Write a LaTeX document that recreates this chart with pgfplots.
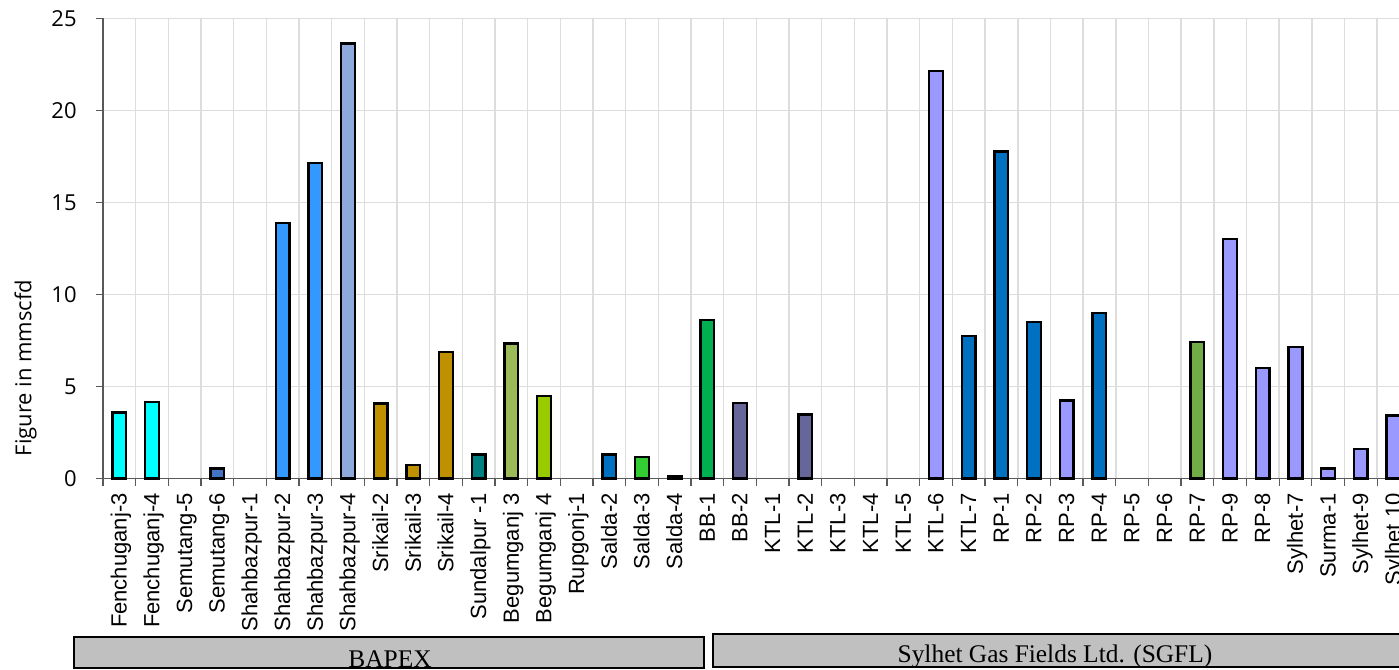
\documentclass[border=0pt]{standalone}
\usepackage{fontspec}
\setmainfont{Liberation Sans}
\newfontfamily\tickfont{Open Sans}
\newfontfamily\seriffont{Liberation Serif}
\usepackage{pgfplots}
\pgfplotsset{compat=1.18}

\definecolor{cCyan}{HTML}{00FFFF}
\definecolor{cRoyal}{HTML}{4472C4}
\definecolor{cSky}{HTML}{3399FF}
\definecolor{cPale}{HTML}{8EA9DB}
\definecolor{cGold}{HTML}{BF9000}
\definecolor{cTeal}{HTML}{008080}
\definecolor{cOlive}{HTML}{9BBB59}
\definecolor{cLime}{HTML}{99CC00}
\definecolor{cBlue}{HTML}{0070C0}
\definecolor{cGreen}{HTML}{33CC33}
\definecolor{cEmer}{HTML}{00B050}
\definecolor{cSlate}{HTML}{666699}
\definecolor{cLav}{HTML}{9999FF}
\definecolor{cLeaf}{HTML}{70AD47}
\definecolor{boxgray}{HTML}{C0C0C0}
\definecolor{gridgray}{HTML}{DDDDDD}

\begin{document}
\begin{tikzpicture}[x=0.5pt,y=0.5pt]
\useasboundingbox (0,0) rectangle (1399,670);
\begin{axis}[
  at={(51.5pt,95.75pt)}, anchor=south west,
  scale only axis, width=648pt, height=230pt,
  ybar, bar width=0.42, bar shift=0pt,
  xmin=-0.5, xmax=39.17,
  ymin=0, ymax=25,
  axis x line*=bottom, axis y line*=left,
  axis line style={black!65, line width=0.6pt},
  tick align=outside, major tick length=3.5pt,
  tick style={black!65, line width=0.6pt},
  xtick={-0.5,0.5,...,38.5}, xticklabels={},
  ytick={0,5,...,25}, yticklabels={0,5,10,15,20,25},
  yticklabel style={font=\tickfont\fontsize{11}{13}\selectfont, anchor=east, inner sep=0pt, xshift=-9.5pt},
  xmajorgrids, ymajorgrids,
  major grid style={draw=gridgray, line width=0.75pt},
  extra x ticks={0,...,39},
  extra x tick style={grid=none, major tick length=0pt},
  extra x tick labels={Fenchuganj-3,Fenchuganj-4,Semutang-5,Semutang-6,Shahbazpur-1,Shahbazpur-2,Shahbazpur-3,Shahbazpur-4,Srikail-2,Srikail-3,Srikail-4,Sundalpur -1,Begumganj 3,Begumganj 4,Rupgonj-1,Salda-2,Salda-3,Salda-4,BB-1,BB-2,KTL-1,KTL-2,KTL-3,KTL-4,KTL-5,KTL-6,KTL-7,RP-1,RP-2,RP-3,RP-4,RP-5,RP-6,RP-7,RP-9,RP-8,Sylhet-7,Surma-1,Sylhet-9,Sylhet 10},
  xticklabel style={font=\fontsize{11}{13}\selectfont, inner sep=0pt, xshift=3.7pt, yshift=-7.25pt, rotate=90, anchor=base east},
  every axis plot/.append style={draw=black, line width=1.2pt},
  clip=false,
]
\addplot[fill=cCyan] coordinates {(0,3.58) (1,4.16)};
\addplot[fill=cRoyal] coordinates {(3,0.55)};
\addplot[fill=cSky] coordinates {(5,13.9) (6,17.15)};
\addplot[fill=cPale] coordinates {(7,23.65)};
\addplot[fill=cGold] coordinates {(8,4.07) (9,0.72) (10,6.86)};
\addplot[fill=cTeal] coordinates {(11,1.3)};
\addplot[fill=cOlive] coordinates {(12,7.33)};
\addplot[fill=cLime] coordinates {(13,4.47)};
\addplot[fill=cBlue] coordinates {(15,1.3) (26,7.76) (27,17.78) (28,8.5) (30,9.01)};
\addplot[fill=cGreen] coordinates {(16,1.18)};
\addplot[fill=black] coordinates {(17,0.12)};
\addplot[fill=cEmer] coordinates {(18,8.6)};
\addplot[fill=cSlate] coordinates {(19,4.1) (21,3.47)};
\addplot[fill=cLav] coordinates {(25,22.16) (29,4.25) (34,13.0) (35,6.0) (36,7.15) (37,0.55) (38,1.6) (39,3.43)};
\addplot[fill=cLeaf] coordinates {(33,7.42)};
\end{axis}
\node[rotate=90, anchor=base, font=\tickfont\fontsize{11}{13}\selectfont] at (31.5,302) {Figure in mmscfd};
\draw[line width=0.9pt, fill=boxgray] (74,2) rectangle (704,33);
\node[anchor=base, inner sep=0pt, font=\seriffont\fontsize{12.7}{14}\selectfont] at (390,3) {BAPEX};
\draw[line width=0.9pt, fill=boxgray] (713,3) rectangle (1420,36);
\node[anchor=base, inner sep=0pt, font=\seriffont\fontsize{12.7}{14}\selectfont] at (1055,7) {Sylhet Gas Fields Ltd. (SGFL)};
\end{tikzpicture}
\end{document}
